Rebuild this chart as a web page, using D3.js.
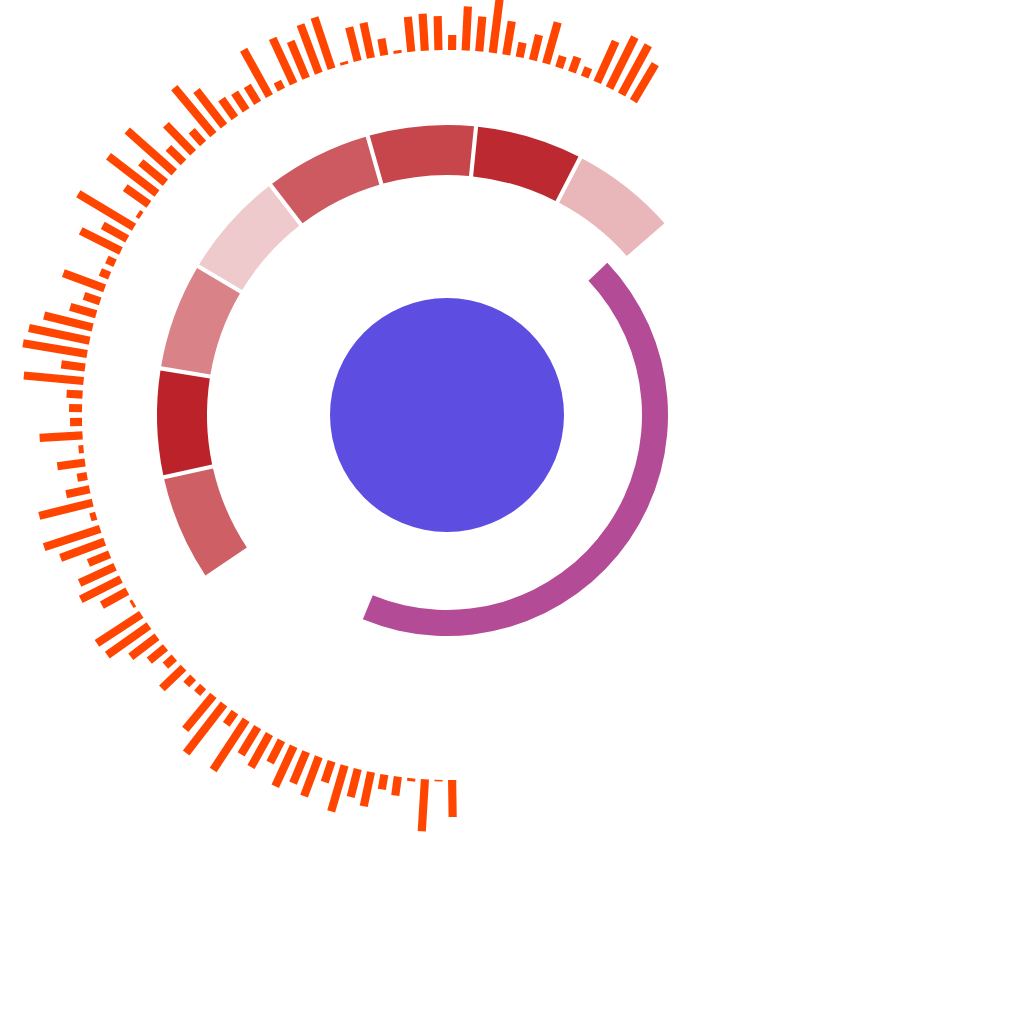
<!DOCTYPE html>
<html>
<head>
<meta charset="utf-8">
<script src="https://cdn.jsdelivr.net/npm/d3@7"></script>
<style>
  html, body { margin: 0; padding: 0; background: #ffffff; }
  svg { display: block; }
</style>
</head>
<body>
<svg id="chart" width="1024" height="1024"></svg>
<script>
// ---- data ----
const barValues = [
  37, 1.5, 52, 3, 19, 15, 35, 29, 48, 22,
  42, 34, 44, 25, 38, 32, 60, 15, 62, 44,
  9, 10, 30, 12, 21, 33, 51, 53, 3, 29,
  45, 39, 23, 47, 59, 6, 55, 24, 10, 28,
  5, 43, 12, 13, 16, 60, 24, 65, 62, 50,
  27, 17, 44, 10, 9, 45, 28, 65, 4, 29,
  61, 32, 63, 21, 39, 17, 61, 45, 23, 21,
  20, 53, 9, 50, 40, 52, 54, 3, 35, 36,
  17, 3, 35, 37, 34, 15, 44, 35, 54, 34,
  15, 26, 43, 12, 16, 10, 45, 57, 56, 43
];
const segmentValues = [64, 100, 43, 2, 67, 79, 96, 13];
const gaugeValue = 0.433;

// ---- layout ----
const deg = Math.PI / 180;
const cx = 447, cy = 415;
const svg = d3.select("#chart");
svg.append("rect").attr("width", 1024).attr("height", 1024).attr("fill", "#ffffff");
const g = svg.append("g").attr("transform", `translate(${cx},${cy})`);

// central disc
g.append("circle").attr("r", 117).attr("fill", "#5e4de1");

// gauge arc
const gaugeAngle = d3.scaleLinear().domain([0, 1]).range([46.5 * deg, 406.5 * deg]);
g.append("path")
  .attr("d", d3.arc()({ innerRadius: 195, outerRadius: 221, startAngle: gaugeAngle(0), endAngle: gaugeAngle(gaugeValue) }))
  .attr("fill", "#b44b97");

// segmented ring
const segColor = d3.scaleLinear().domain([0, 100]).range(["#f0cdd0", "#bb2229"]);
const pie = d3.pie().value(() => 1).sort(null)
  .startAngle(236 * deg).endAngle(409 * deg).padAngle(0.011);
const segArc = d3.arc().innerRadius(240).outerRadius(290);
g.selectAll("path.seg")
  .data(pie(segmentValues))
  .join("path")
  .attr("class", "seg")
  .attr("d", segArc)
  .attr("fill", d => segColor(d.data));

// radial bars
const angle = d3.scaleBand()
  .domain(d3.range(barValues.length))
  .range([177.7 * deg, 392.2 * deg])
  .paddingInner(0.4).paddingOuter(0.4);
const radius = d3.scaleLinear().domain([0, 65]).range([365, 430]);
const barW = angle.bandwidth() * radius(0);
g.selectAll("rect.bar")
  .data(barValues)
  .join("rect")
  .attr("class", "bar")
  .attr("x", -barW / 2)
  .attr("y", d => -radius(d))
  .attr("width", barW)
  .attr("height", d => radius(d) - radius(0))
  .attr("fill", "#ff4500")
  .attr("transform", (d, i) => `rotate(${(angle(i) + angle.bandwidth() / 2) / deg})`);
</script>
</body>
</html>
